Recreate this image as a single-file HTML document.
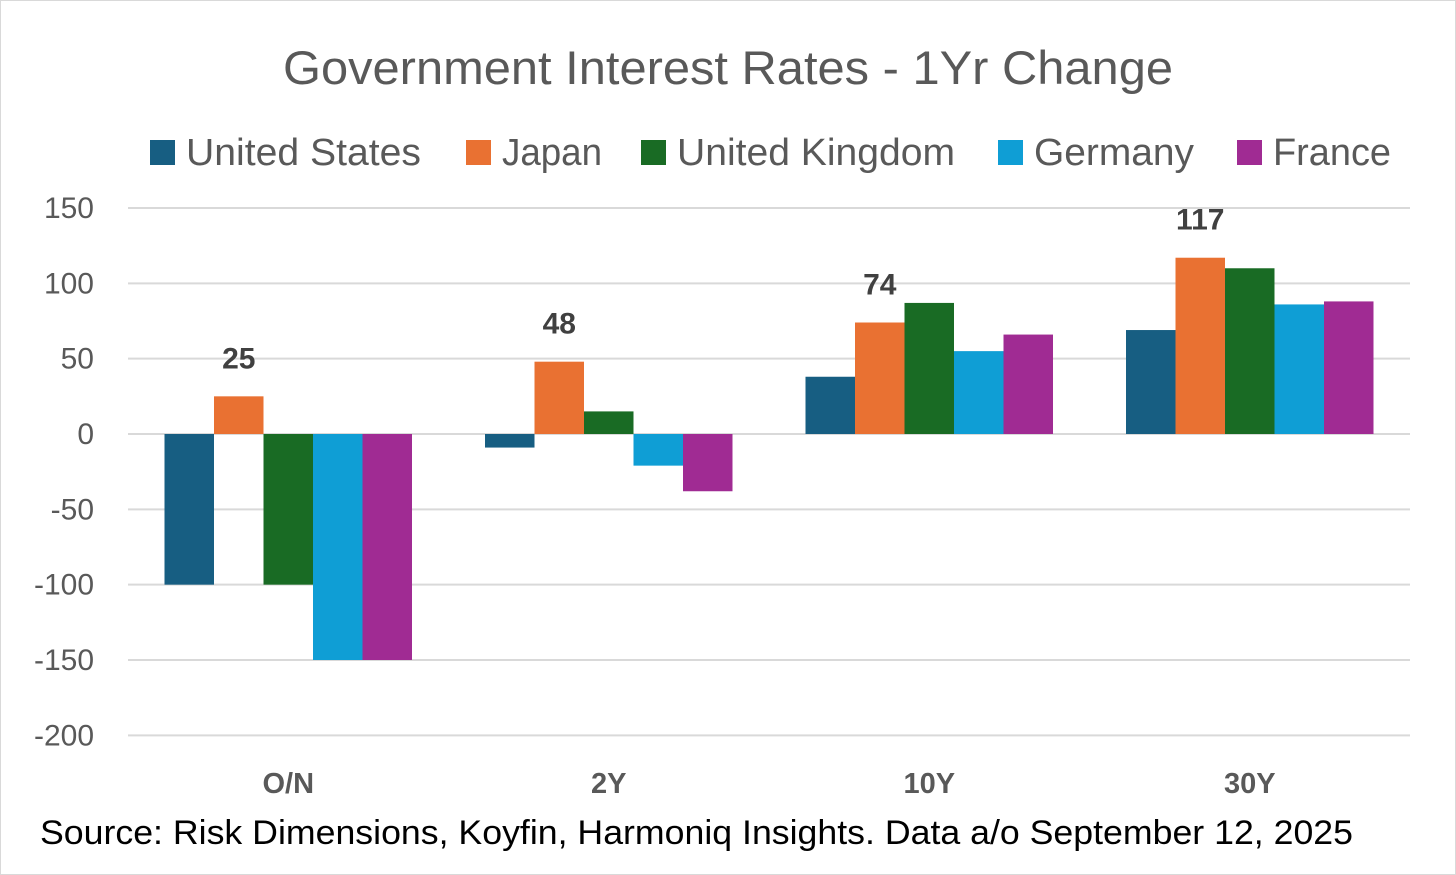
<!DOCTYPE html>
<html><head><meta charset="utf-8"><style>
html,body{margin:0;padding:0;background:#fff;}
svg{display:block;}
text{font-family:"Liberation Sans",sans-serif;}
</style></head><body>
<svg id="chart" width="1456" height="875" viewBox="0 0 1456 875" xmlns="http://www.w3.org/2000/svg">
<rect x="0.5" y="0.5" width="1455" height="874" fill="#fff" stroke="#d9d9d9"/>
<text x="283" y="84" textLength="890" lengthAdjust="spacingAndGlyphs" font-size="47" fill="#595959">Government Interest Rates - 1Yr Change</text>
<g id="grid"></g>
<g id="yticks"></g>
<g id="bars"></g>
<g id="xlabels"></g>
<g id="legend"></g>
<text x="40" y="844" textLength="1313" lengthAdjust="spacingAndGlyphs" font-size="34" fill="#000">Source: Risk Dimensions, Koyfin, Harmoniq Insights. Data a/o September 12, 2025</text>
</svg>
<script>
const categories = ["O/N","2Y","10Y","30Y"];
const seriesNames = ["United States","Japan","United Kingdom","Germany","France"];
const usValues = [-100,-9,38,69];
const japanValues = [25,48,74,117];
const ukValues = [-100,15,87,110];
const germanyValues = [-150,-21,55,86];
const franceValues = [-150,-38,66,88];
const yTicks = [150,100,50,0,-50,-100,-150,-200];
const labelValues = [25,48,74,117];

const series = [usValues,japanValues,ukValues,germanyValues,franceValues];
const colors = ["#175e82","#e97132","#196b24","#0f9ed5","#a02b93"];
const NS = "http://www.w3.org/2000/svg";
const plotL = 128, plotR = 1410;
function y(v){ return 434 - v * (226/150); }
const catW = (plotR - plotL) / categories.length;
function xCat(i){ return plotL + catW*i + catW/2; }
const barW = 49.5;
function mk(tag, attrs, parent){ const e=document.createElementNS(NS,tag); for(const k in attrs) e.setAttribute(k,attrs[k]); parent.appendChild(e); return e; }

const grid=document.getElementById('grid'), yt=document.getElementById('yticks');
yTicks.forEach(t=>{
  const l=mk('line',{x1:plotL,x2:plotR,y1:y(t),y2:y(t),stroke:'#d9d9d9','stroke-width':2},grid);
  
  
  const tx=mk('text',{x:94,y:y(t)+10,'text-anchor':'end','font-size':30,fill:'#595959'},yt);
  
  
  tx.textContent=t;
});
const bars=document.getElementById('bars'), xl=document.getElementById('xlabels');
categories.forEach((c,i)=>{
  const start = xCat(i) - barW*series.length/2;
  series.forEach((s,j)=>{
    const v=s[i], top=Math.min(y(v),y(0)), h=Math.abs(y(v)-y(0));
    const r=mk('rect',{x:start+j*barW,y:top,width:barW,height:h,fill:colors[j]},bars);
    
    
  });
  const lbl=mk('text',{x:start+1.5*barW,y:y(labelValues[i])-28,'text-anchor':'middle','font-size':30,'font-weight':'bold',fill:'#404040'},bars);
  
  
  lbl.textContent=labelValues[i];
  const xt=mk('text',{x:xCat(i),y:793,'text-anchor':'middle','font-size':29,'font-weight':'bold',fill:'#595959'},xl);
  
  
  xt.textContent=c;
});
const leg=document.getElementById('legend');
const legX=[150,466,641,998,1237];
const legW=[235,100,278,160,118];
seriesNames.forEach((n,j)=>{
  const sq=mk('rect',{x:legX[j],y:140,width:25,height:25,fill:colors[j]},leg);
  
  
  const t=mk('text',{x:legX[j]+36,y:165,'font-size':38,fill:'#595959',textLength:legW[j],lengthAdjust:'spacingAndGlyphs'},leg);
  
  
  t.textContent=n;
});
</script>
</body></html>
